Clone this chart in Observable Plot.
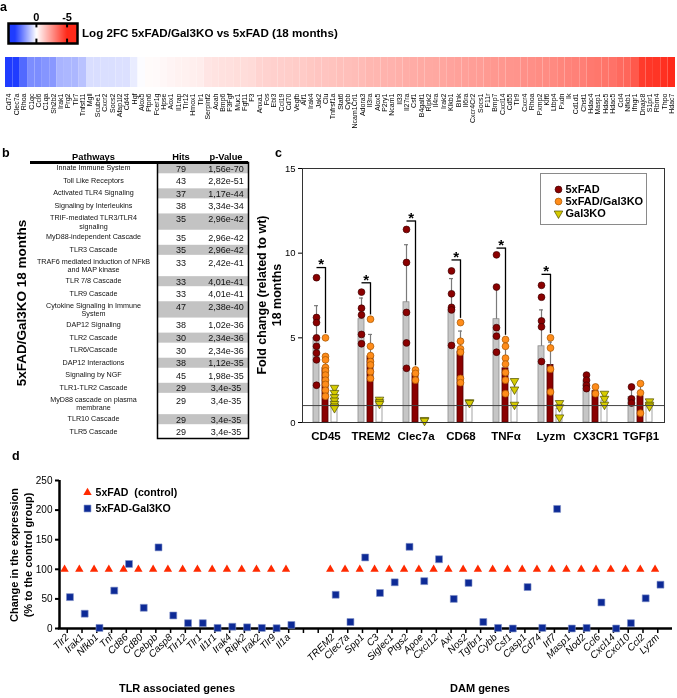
<!DOCTYPE html>
<html><head><meta charset="utf-8">
<script src="https://cdn.jsdelivr.net/npm/d3@7"></script>
<script src="https://cdn.jsdelivr.net/npm/@observablehq/plot@0.6"></script>
<style>
body{margin:0;background:#fff;}
#fig{position:relative;width:677px;height:698px;overflow:hidden;background:#fff;font-family:"Liberation Sans",Arial,sans-serif;color:#000;}
#fig svg{overflow:visible;will-change:transform;}
.pdm g[aria-label="x-axis tick"] path{stroke-width:1.5px;}
.pdo g[aria-label="y-axis tick"] path{stroke-width:2px;}
</style></head><body><div id="fig"></div>
<script>
const FONT = '"Liberation Sans", Arial, sans-serif';
const fig = document.getElementById("fig");

// ---------------- Panel a data ----------------
const heatGenes = ["Cd74","Clec7a","Rhoa","C1qc","Ccl6","C1qa","Sh2b2","Irak1","Prg2","Tlr7",
"Tnfsf11","Mgll","Scube1","Cxcr2","Socs2","Afap1l2","Cd44","Hgf","Alox5","Ptpn6",
"Fcer1g","Hpse","Aox1","Il1rap","Tlr12","Hmox1","Tlr1","Serpinf2","Aoah","Bmp6",
"F3Fgf","Muc1","Fgf11","F3","Anxa1","Fos","Ebi3","Ccl19","Cd70","Vegfb",
"Aif1","Irak4","Jak2","Clu","Tnfrsf1a","Stat6","Cybb","Ncam1Crl1","Adora3","Il3ra",
"Alox5","P2ry1","Ncam1","Il33","Il27ra","Csf1","B4galt1","Ripk2","Il4ra","Irak2",
"Klkb1","Blnk","Il6ra","Cxcr4Cr2","Socs1","F11r","Bmp7","Cxcl14","Cd55","Tlr9",
"Cxcr4","Rhoa","Pxmp2","Klf6","Ltbp4","Pxdn","Ik","Cd1d1","Chst1","Hdac4",
"Masp1","Hdac5","Hdac5","Ccl4","Nfkb1","Ifngr1","Dnajc8","S1pr1","Rbm4","Thpo","Hdac7"];
const heatLog2FC = [3.6,3.6,2.7,2.05,2.05,1.9,1.85,1.35,1.3,1.3,
1.1,0.6,0.6,0.58,0.58,0.55,0.55,0.35,0.05,-0.1,
-0.12,-0.18,-0.25,-0.3,-0.32,-0.38,-0.42,-0.6,-0.65,-0.7,
-0.72,-0.78,-0.8,-0.85,-1.0,-1.05,-1.1,-1.12,-1.15,-1.2,
-1.22,-1.3,-1.35,-1.38,-1.42,-1.48,-1.5,-1.55,-1.6,-1.7,
-1.72,-1.78,-1.8,-1.85,-1.92,-1.95,-2.0,-2.02,-2.05,-2.1,
-2.15,-2.2,-2.22,-2.28,-2.3,-2.38,-2.42,-2.45,-2.5,-2.52,
-2.6,-2.62,-2.68,-2.7,-2.75,-2.85,-2.9,-2.95,-3.0,-3.15,
-3.2,-3.25,-3.3,-3.5,-3.6,-3.9,-4.6,-4.7,-4.75,-4.85,-5.0];
const legendTicks = [0, -5];

// ---------------- Panel b data ----------------
const pathways = ["Innate Immune System","Toll Like Receptors","Activated TLR4 Signaling","Signaling by Interleukins",
"TRIF-mediated TLR3/TLR4\nsignaling","MyD88-independent Cascade","TLR3 Cascade","TRAF6 mediated induction of NFkB\nand MAP kinase",
"TLR 7/8 Cascade","TLR9 Cascade","Cytokine Signaling in Immune\nSystem","DAP12 Signaling","TLR2 Cascade","TLR6/Cascade",
"DAP12 Interactions","Signaling by NGF","TLR1-TLR2 Cascade","MyD88 cascade on plasma\nmembrane","TLR10 Cascade","TLR5 Cascade"];
const pathHits = [79,43,37,38,35,35,35,33,33,33,47,38,30,30,38,45,29,29,29,29];
const pathPValues = ["1,56e-70","2,82e-51","1,17e-44","3,34e-34","2,96e-42","2,96e-42","2,96e-42","2,42e-41","4,01e-41","4,01e-41",
"2,38e-40","1,02e-36","2,34e-36","2,34e-36","1,12e-35","1,98e-35","3,4e-35","3,4e-35","3,4e-35","3,4e-35"];
const tableCols = ["Hits","p-Value"];

// ---------------- Panel c data ----------------
const cGenes = ["CD45","TREM2","Clec7a","CD68","TNFα","Lyzm","CX3CR1","TGFβ1"];
const cGroups = ["5xFAD","5xFAD/Gal3KO","Gal3KO"];
const cMean5xFAD  = [5.0, 6.1, 7.1, 6.7, 6.1, 4.5, 2.4, 1.5];
const cMeanDouble = [3.2, 3.9, 2.9, 4.2, 3.2, 3.4, 1.85, 1.55];
const cMeanGal3   = [1.4, 1.3, 0.15, 1.2, 1.9, 0.8, 1.3, 1.15];
const cTop5xFAD   = [6.9, 7.35, 10.5, 8.5, 7.9, 6.65, 2.75, 2.1];
const cTopDouble  = [3.75, 5.2, 3.05, 5.4, 4.8, 4.75, 2.05, 2.25];
const cTopGal3    = [2.1, 1.45, 0.2, 1.3, 2.5, 1.2, 1.7, 1.3];
const cPts5xFAD = [[8.55,6.2,5.9,5.0,4.5,4.1,3.7,2.2],[7.7,6.75,6.35,5.2,4.65],[11.4,9.45,6.5,4.7,3.2],[8.95,7.6,6.8,6.65,4.55],
  [9.9,8.0,5.6,5.1,4.15],[8.1,7.4,6.0,5.65,3.6],[2.8,2.5,2.2,2.0],[2.1,1.4,1.15]];
const cPtsDouble = [[5.0,3.9,3.7,3.25,3.05,2.8,2.5,2.25,1.9,1.55],[6.1,4.5,3.95,3.6,3.4,3.0,2.6],[3.1,2.9,2.5],[5.9,4.8,4.35,4.15,2.6,2.35],
  [4.9,4.5,3.8,3.45,2.95,2.5,1.7],[5.0,4.4,3.15,1.8],[2.1,1.7],[2.3,1.75,0.55]];
const cPtsGal3 = [[2.05,1.75,1.5,1.3,1.1,0.95,0.85],[1.35,1.2,1.1],[0.15,0.1],[1.2,1.15],[2.45,1.95,1.05],[1.15,0.9,0.3],[1.7,1.4,1.05],[1.25,1.05,0.95]];
const cSigGenes = ["CD45","TREM2","Clec7a","CD68","TNFα","Lyzm"];
const cSigHeight = [9.15, 8.25, 11.9, 9.6, 10.3, 8.75];
const cYTicks = [0,5,10,15];

// ---------------- Panel d data ----------------
const tlrGenes = ["Tlr2","Irak1","Nfkb1","Tnf","Cd86","Cd80","Cebpb","Casp8","Tlr12","Tlr1","Il1r1","Irak4","Ripk2","Irak2","Tlr9","Il1a"];
const tlrCtrl = [100,100,100,100,100,100,100,100,100,100,100,100,100,100,100,100];
const tlrKO   = [53,25,1,64,109,35,137,22,9,9,1,3,2,1,0.5,6];
const damGenes = ["TREM2","Clec7a","Spp1","C3","Siglec1","Ptgs2","Apoe","Cxcl12","Axl","Nos2","Tgfbr1","Cybb","Csf1","Casp1","Cd74","Irf7","Masp1","Nod2","Ccl6","Cxcl14","Cxcl10","Ccl2","Lyzm"];
const damCtrl = [100,100,100,100,100,100,100,100,100,100,100,100,100,100,100,100,100,100,100,100,100,100,100];
const damKO   = [57,11,120,60,78,138,80,117,50,77,11,1,0,70,1,202,0,1,44,0,9,51,74];
const dGaps = ["_gap1","_gap2"];
const dYTicks = [0,50,100,150,200,250];
const dSeries = ["5xFAD\u00a0 (control)","5xFAD-Gal3KO"];

// ---------------- helpers ----------------
function put(node, left, top, parent = fig) {
  node.style.position = "absolute"; node.style.left = left + "px"; node.style.top = top + "px";
  parent.appendChild(node); return node;
}
function textDiv(txt, left, top, css) {
  const d = document.createElement("div"); d.textContent = txt;
  d.style.cssText = `position:absolute;white-space:nowrap;font-family:${FONT};` + css;
  return put(d, left, top);
}
function rotText(lines, cx, cy, size, lh) {
  const d = document.createElement("div");
  d.innerHTML = lines.join("<br>");
  d.style.cssText = `position:absolute;font-family:${FONT};font-weight:bold;font-size:${size}px;line-height:${lh}px;text-align:center;white-space:nowrap;`;
  fig.appendChild(d);
  const w = d.offsetWidth, h = d.offsetHeight;
  d.style.left = (cx - w / 2) + "px"; d.style.top = (cy - h / 2) + "px";
  d.style.transform = "rotate(-90deg)";
}
const baseStyle = (extra = {}) => Object.assign({background: "transparent", fontFamily: FONT, color: "black", overflow: "visible"}, extra);

// ---------------- Panel a ----------------
const heatColor = {type: "linear", domain: [-5, 0, 3.5], range: ["#ff2a1a", "#ffffff", "#1f3cff"], interpolate: "rgb", clamp: true};
const heatData = heatGenes.map((g, i) => ({i, g, v: heatLog2FC[i]}));

put(Plot.plot({
  width: 677, height: 140, marginTop: 57, marginBottom: 53, marginLeft: 5, marginRight: 2,
  style: baseStyle({fontSize: "7px"}),
  x: {type: "band", domain: heatData.map(d => d.i), padding: 0, tickSize: 0, tickPadding: 6, tickRotate: -90,
      tickFormat: i => heatGenes[i], label: null},
  y: {axis: null},
  color: heatColor,
  marks: [Plot.cellX(heatData, {x: "i", fill: "v"})]
}), 0, 0);

put(Plot.plot({
  width: 79, height: 45, marginTop: 23, marginBottom: 2, marginLeft: 8, marginRight: 2,
  style: baseStyle({fontSize: "11px", fontWeight: "bold"}),
  x: {domain: [-6.7, 4.55], reverse: true, axis: "top", ticks: legendTicks, tickFormat: d => String(d), tickSize: 0, tickPadding: 3, label: null},
  y: {domain: [0, 1], axis: null},
  color: heatColor,
  marks: [
    Plot.raster({fill: (x, y) => x, x1: -6.7, x2: 4.55, y1: 0, y2: 1, pixelSize: 1}),
    Plot.ruleX(legendTicks, {x: d => d, y1: 0, y2: 0.22, stroke: "black", strokeWidth: 2}),
    Plot.ruleX(legendTicks, {x: d => d, y1: 0.78, y2: 1, stroke: "black", strokeWidth: 2}),
    Plot.frame({stroke: "black", strokeWidth: 2.5})
  ]
}), 0, 0);

textDiv("a", 0, 0, "font-weight:bold;font-size:12.5px;line-height:14px;");
textDiv("Log 2FC 5xFAD/Gal3KO vs 5xFAD (18 months)", 82, 26, "font-weight:bold;font-size:11.6px;line-height:14px;");

// ---------------- Panel b ----------------
// row heights follow the number of text lines in each pathway name
let acc = 0;
const rows = pathways.map((name, i) => {
  const w = 1 + 0.5 * (name.split("\n").length - 1);
  const r = {i, name, hits: pathHits[i], p: pathPValues[i], shade: i % 2 === 0, s: acc, e: acc + w};
  acc += w; return r;
});
const rowTotal = acc;
const tableCells = rows.flatMap(r => tableCols.map((c, k) => ({col: c, val: k === 0 ? String(r.hits) : r.p, shade: r.shade, s: r.s, e: r.e})));

put(Plot.plot({
  width: 250, height: 300, marginTop: 22, marginBottom: 2, marginLeft: 157, marginRight: 2,
  style: baseStyle({fontSize: "8px"}),
  x: {type: "band", domain: tableCols, padding: 0, axis: null},
  y: {domain: [0, rowTotal], reverse: true, axis: null},
  marks: [
    Plot.barY(tableCells.filter(d => d.shade), {x: "col", y1: d => d.s + 0.1, y2: d => d.e - 0.1, fill: "#c3c3c3"}),
    Plot.text(tableCells, {x: "col", y: d => d.s + 0.5, text: "val", fontSize: 9, fill: "#111"}),
    Plot.text(rows, {frameAnchor: "left", dx: -64, y: d => d.s + 0.5, text: "name", fontSize: 7.2, lineAnchor: "top", dy: -4.2, lineHeight: 1.12, textAnchor: "middle", fill: "#111"}),
    Plot.text(["Pathways"], {frameAnchor: "top-left", dx: -64, dy: -9, text: d => d, fontSize: 9.3, fontWeight: "bold", textAnchor: "middle"}),
    Plot.text(tableCols, {x: d => d, frameAnchor: "top", dy: -9, text: d => d, fontSize: 9.3, fontWeight: "bold"}),
    Plot.frame({stroke: "black", strokeWidth: 1.5}),
    Plot.ruleY([0], {y: d => d, stroke: "black", strokeWidth: 3, insetLeft: -127})
  ]
}), 0, 140);

textDiv("b", 2, 146, "font-weight:bold;font-size:12.5px;line-height:14px;");
rotText(["5xFAD/Gal3KO 18 months"], 22, 303, 13.5, 16);

// ---------------- Panel c ----------------
const cBars = cGenes.flatMap((g, i) => [
  {gene: g, group: cGroups[0], mean: cMean5xFAD[i], top: cTop5xFAD[i]},
  {gene: g, group: cGroups[1], mean: cMeanDouble[i], top: cTopDouble[i]},
  {gene: g, group: cGroups[2], mean: cMeanGal3[i], top: cTopGal3[i]}
]);
const cPts = cGenes.flatMap((g, i) => [
  ...cPts5xFAD[i].map(v => ({gene: g, group: cGroups[0], v})),
  ...cPtsDouble[i].map(v => ({gene: g, group: cGroups[1], v})),
  ...cPtsGal3[i].map(v => ({gene: g, group: cGroups[2], v}))
]);
const cBrk = cSigGenes.map((g, k) => {
  const i = cGenes.indexOf(g);
  return {gene: g, top: cSigHeight[k], low: Math.max(...cPtsDouble[i]) + 0.25};
});
const cDims = {width: 427, height: 310, marginTop: 28, marginBottom: 28, marginLeft: 52, marginRight: 13};
const C_RED = "#8b0000", C_ORANGE = "#ff8c1a", C_YEL = "#d6cb00";

put(Plot.plot({
  ...cDims,
  style: baseStyle({fontSize: "11.5px", fontWeight: "bold"}),
  fx: {domain: cGenes, padding: 0, axis: "bottom", tickSize: 0, tickPadding: 9, label: null},
  x: {domain: cGroups, paddingInner: 0.3, paddingOuter: 1.08, axis: null},
  y: {domain: [0, 15], axis: null},
  marks: [
    Plot.barY(cBars, {filter: d => d.group === cGroups[0], fx: "gene", x: "group", y: "mean", fill: "#c6c6c6", stroke: "#8c8c8c", strokeWidth: 0.8}),
    Plot.barY(cBars, {filter: d => d.group === cGroups[1], fx: "gene", x: "group", y: "mean", fill: C_RED, stroke: "#500000", strokeWidth: 0.8}),
    Plot.barY(cBars, {filter: d => d.group === cGroups[2], fx: "gene", x: "group", y: "mean", fill: "white", stroke: "#8c8c8c", strokeWidth: 0.8}),
    Plot.ruleX(cBars, {fx: "gene", x: "group", y1: "mean", y2: "top", stroke: "#7a7a7a", strokeWidth: 1.2}),
    Plot.tickY(cBars, {fx: "gene", x: "group", y: "top", stroke: "#7a7a7a", strokeWidth: 1.2, inset: 1}),
    Plot.ruleX(cBrk, {fx: "gene", x: () => cGroups[1], y1: "low", y2: "top", stroke: "black", strokeWidth: 1.3}),
    Plot.link(cBrk, {fx: "gene", x1: () => cGroups[0], x2: () => cGroups[1], y1: "top", y2: "top", stroke: "black", strokeWidth: 1.3}),
    Plot.text(cBrk, {fx: "gene", x: () => cGroups[0], dx: 4.6, y: "top", dy: -3, text: () => "*", fontSize: 15}),
    Plot.dot(cPts, {filter: d => d.group === cGroups[0], fx: "gene", x: "group", y: "v", r: 3.4, fill: C_RED, stroke: "#3d0000", strokeWidth: 0.7}),
    Plot.dot(cPts, {filter: d => d.group === cGroups[1], fx: "gene", x: "group", y: "v", r: 3.4, fill: C_ORANGE, stroke: "#a35400", strokeWidth: 0.7}),
    Plot.dot(cPts, {filter: d => d.group === cGroups[2], fx: "gene", x: "group", y: "v", r: 3.2, symbol: "triangle", rotate: 180, fill: C_YEL, stroke: "#4d4d00", strokeWidth: 0.7})
  ]
}), 250, 140);

put(Plot.plot({
  ...cDims,
  style: baseStyle({fontSize: "9.5px"}),
  x: {domain: [0, 1], axis: null},
  y: {domain: [0, 15], ticks: cYTicks, tickSize: 4, tickPadding: 3, label: null},
  marks: [
    Plot.ruleY([1], {stroke: "#444", strokeWidth: 1}),
    Plot.frame({stroke: "#333", strokeWidth: 1})
  ]
}), 250, 140);

const cLegBox = document.createElement("div");
cLegBox.style.cssText = "position:absolute;left:540px;top:173px;width:107px;height:52px;box-sizing:border-box;border:1.3px solid #8a8a8a;";
fig.appendChild(cLegBox);
put(Plot.plot({
  width: 105, height: 50, marginTop: 14, marginBottom: 11, marginLeft: 17, marginRight: 0,
  style: baseStyle({fontSize: "11px", fontWeight: "bold"}),
  y: {type: "point", domain: cGroups, padding: 0, axis: null},
  marks: [
    Plot.dot([cGroups[0]], {y: d => d, frameAnchor: "left", r: 3.4, fill: C_RED, stroke: "#3d0000", strokeWidth: 0.7}),
    Plot.dot([cGroups[1]], {y: d => d, frameAnchor: "left", r: 3.4, fill: C_ORANGE, stroke: "#a35400", strokeWidth: 0.7}),
    Plot.dot([cGroups[2]], {y: d => d, frameAnchor: "left", r: 3.2, symbol: "triangle", rotate: 180, fill: C_YEL, stroke: "#4d4d00", strokeWidth: 0.7}),
    Plot.text(cGroups, {y: d => d, frameAnchor: "left", dx: 7, textAnchor: "start", text: d => d})
  ]
}), 0, 0, cLegBox);

textDiv("c", 275, 146, "font-weight:bold;font-size:12.5px;line-height:14px;");
rotText(["Fold change (related to wt)", "18 months"], 269, 295, 12.5, 15);

// ---------------- Panel d ----------------
const dDomain = [...tlrGenes, ...dGaps, ...damGenes];
const dCtrl = [...tlrGenes.map((g, i) => ({gene: g, v: tlrCtrl[i]})), ...damGenes.map((g, i) => ({gene: g, v: damCtrl[i]}))];
const dKO = [...tlrGenes.map((g, i) => ({gene: g, v: tlrKO[i]})), ...damGenes.map((g, i) => ({gene: g, v: damKO[i]}))];
const dDims = {width: 677, height: 243, marginTop: 25, marginBottom: 70, marginLeft: 59, marginRight: 12};
const D_RED = "#ff2a00", D_BLUE = "#0d2a96";

const pdo = Plot.plot({
  ...dDims,
  style: baseStyle({fontSize: "10px"}),
  x: {domain: [0, 1], axis: null},
  y: {domain: [0, 250], ticks: dYTicks, tickSize: 4, tickPadding: 3, label: null},
  marks: [
    Plot.ruleX([0], {x: d => d, stroke: "black", strokeWidth: 2.5}),
    Plot.ruleY([0], {y: d => d, stroke: "black", strokeWidth: 2.5, insetRight: -7, insetLeft: -1.2})
  ]
});
pdo.classList.add("pdo");
put(pdo, 0, 455);

const pdm = Plot.plot({
  ...dDims,
  style: baseStyle({fontSize: "10px", fontStyle: "italic"}),
  x: {type: "point", domain: dDomain, padding: 0.525, tickSize: 5, tickPadding: 2, tickRotate: -45,
      tickFormat: d => d.startsWith("_") ? "" : d, label: null},
  y: {domain: [0, 250], axis: null},
  marks: [
    Plot.dot(dCtrl, {x: "gene", y: "v", dx: -2.7, symbol: "triangle", r: 3.1, fill: D_RED}),
    Plot.dot(dKO, {x: "gene", y: "v", dx: 2.7, symbol: "square", r: 3.9, fill: D_BLUE, stroke: "#8090c8", strokeWidth: 0.6})
  ]
});
pdm.classList.add("pdm");
put(pdm, 0, 455);

put(Plot.plot({
  width: 160, height: 32, marginTop: 8, marginBottom: 8, marginLeft: 7, marginRight: 0,
  style: baseStyle({fontSize: "10.6px", fontWeight: "bold"}),
  y: {type: "point", domain: dSeries, padding: 0, axis: null},
  marks: [
    Plot.dot([dSeries[0]], {y: d => d, frameAnchor: "left", symbol: "triangle", r: 3.1, fill: D_RED}),
    Plot.dot([dSeries[1]], {y: d => d, frameAnchor: "left", symbol: "square", r: 3.9, fill: D_BLUE, stroke: "#8090c8", strokeWidth: 0.6}),
    Plot.text(dSeries, {y: d => d, frameAnchor: "left", dx: 8, textAnchor: "start", text: d => d})
  ]
}), 80, 484);

textDiv("d", 12, 449, "font-weight:bold;font-size:12.5px;line-height:14px;");
rotText(["Change in the expression", "(% to the control group)"], 21, 555, 11, 14);
textDiv("TLR associated genes", 77, 681, "width:200px;text-align:center;font-weight:bold;font-size:11px;line-height:14px;");
textDiv("DAM genes", 380, 681, "width:200px;text-align:center;font-weight:bold;font-size:11px;line-height:14px;");
</script></body></html>
